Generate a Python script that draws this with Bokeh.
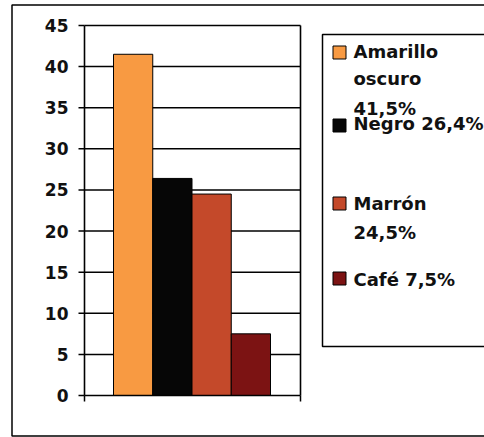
from bokeh.plotting import figure
from bokeh.models import Range1d
from bokeh.embed import file_html
from bokeh.resources import INLINE
from bokeh.core.properties import value
import numpy as np

# ---- data -------------------------------------------------------------
categories = ["Amarillo oscuro", "Negro", "Marrón", "Café"]
percentages = [41.5, 26.4, 24.5, 7.5]
bar_colors = ["#F89A42", "#060606", "#C4492A", "#7C1313"]
y_ticks = [0, 5, 10, 15, 20, 25, 30, 35, 40, 45]
y_tick_labels = [str(t) for t in y_ticks]


def pct(v):
    return f"{v:.1f}".replace(".", ",") + "%"


# legend text, split over lines as printed
legend_lines = [
    ["Amarillo", "oscuro", pct(percentages[0])],
    ["Negro " + pct(percentages[1])],
    ["Marrón", pct(percentages[2])],
    ["Café " + pct(percentages[3])],
]

# ---- layout (pixels) --------------------------------------------------
W, H = 484, 437
PLOT_LEFT, PLOT_RIGHT = 84, 300
PLOT_TOP, PLOT_BOTTOM = 25, 395
BARS_LEFT, BARS_RIGHT = 113, 270
Y_MAX = 45

upp = Y_MAX / (PLOT_BOTTOM - PLOT_TOP)          # value units per pixel
val_start = -(H - PLOT_BOTTOM) * upp
val_end = Y_MAX + PLOT_TOP * upp

n = len(categories)
ppu = (BARS_RIGHT - BARS_LEFT) / n              # pixels per bar slot
slot_start = -BARS_LEFT / ppu
slot_end = n + (W - BARS_RIGHT) / ppu

p = figure(width=W, height=H, output_backend="svg", toolbar_location=None,
           x_range=Range1d(0, W), y_range=Range1d(H, 0),
           x_axis_type=None, y_axis_type=None, min_border=0,
           outline_line_color=None, background_fill_color="white",
           border_fill_color="white")
p.grid.visible = False
p.extra_x_ranges = {"slot": Range1d(slot_start, slot_end)}
p.extra_y_ranges = {"val": Range1d(val_start, val_end)}

FONT = value("DejaVu Sans")
INK = "#111111"

# outer frame
p.quad(left=11.5, right=W + 10, top=4.5, bottom=435.5,
       fill_color=None, line_color="black", line_width=1.5)

# horizontal gridlines
grid_y = y_ticks[1:]
p.segment(x0=[PLOT_LEFT] * len(grid_y), x1=[PLOT_RIGHT] * len(grid_y),
          y0=grid_y, y1=grid_y, y_range_name="val",
          line_color="black", line_width=1.5)

# bars
p.vbar(x=np.arange(n) + 0.5, width=1.0, bottom=0, top=percentages,
       fill_color=bar_colors, line_color="black", line_width=1,
       x_range_name="slot", y_range_name="val")

# plot area edges: left axis, right border, bottom axis
p.segment(x0=[PLOT_LEFT, PLOT_RIGHT, PLOT_LEFT],
          x1=[PLOT_LEFT, PLOT_RIGHT, PLOT_RIGHT],
          y0=[0, 0, 0], y1=[Y_MAX, Y_MAX, 0], y_range_name="val",
          line_color="black", line_width=1.6)

# y ticks
p.segment(x0=[PLOT_LEFT - 6] * len(y_ticks), x1=[PLOT_LEFT] * len(y_ticks),
          y0=y_ticks, y1=y_ticks, y_range_name="val",
          line_color="black", line_width=1.5)
# x ticks at the category edges
p.segment(x0=[PLOT_LEFT, PLOT_RIGHT], x1=[PLOT_LEFT, PLOT_RIGHT],
          y0=[PLOT_BOTTOM] * 2, y1=[PLOT_BOTTOM + 6] * 2,
          line_color="black", line_width=1.5)

# y tick labels
p.text(x=[PLOT_LEFT - 16] * len(y_ticks), y=y_ticks, text=y_tick_labels,
       y_range_name="val", text_align="right", text_baseline="middle",
       text_font=FONT, text_font_style="bold", text_font_size="17px",
       text_color=INK)

# legend box
p.quad(left=322, right=W + 10, top=34, bottom=346,
       fill_color="white", line_color="black", line_width=1.5)

swatch_y = [52, 125, 203, 278]
line_centers = [[51, 78, 107.5], [123], [202.5, 231.5], [279]]
p.rect(x=[339] * n, y=swatch_y, width=13, height=13,
       fill_color=bar_colors, line_color="black", line_width=1)

tx, ty, tt = [], [], []
for lines, centers in zip(legend_lines, line_centers):
    for s, c in zip(lines, centers):
        tx.append(353)
        ty.append(c)
        tt.append(s)
p.text(x=tx, y=ty, text=tt, text_align="left", text_baseline="middle",
       text_font=FONT, text_font_style="bold", text_font_size="18px",
       text_color=INK)

open("out.html", "w").write(file_html(p, INLINE))
